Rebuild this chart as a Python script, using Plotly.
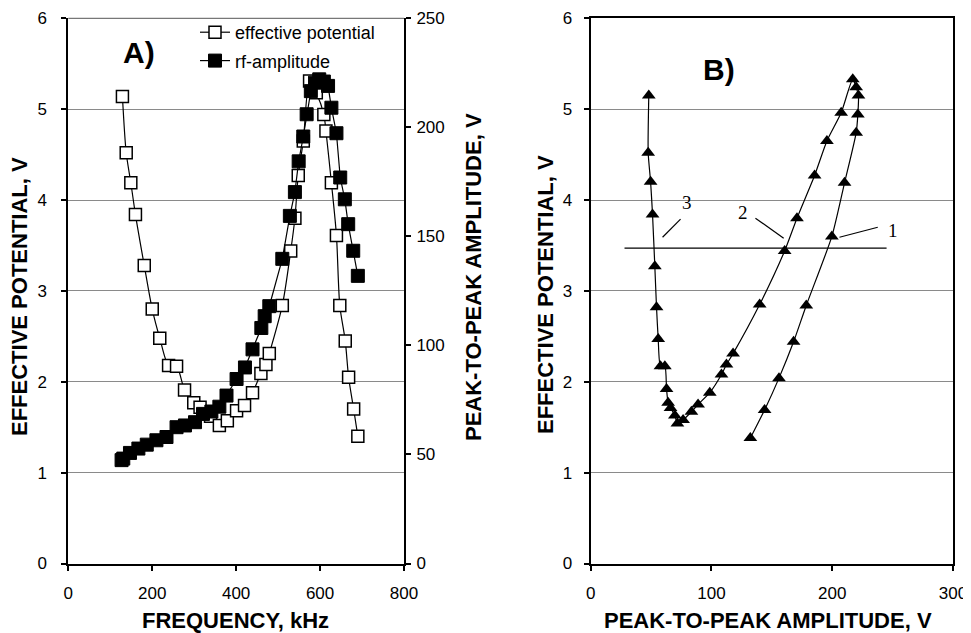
import plotly.graph_objects as go

# ---------------- Panel A data ----------------
ep_freq = [129, 138, 149, 160, 181, 200, 218, 239, 258, 277, 299, 314, 339, 360, 379, 401, 420,
           439, 459, 471, 479, 510, 530, 540, 548, 560, 575, 591, 609, 614, 627, 639, 647, 660,
           668, 680, 690]
ep_pot = [5.14, 4.52, 4.19, 3.84, 3.28, 2.80, 2.48, 2.18, 2.17, 1.91, 1.77, 1.72, 1.62, 1.52, 1.57,
          1.68, 1.74, 1.88, 2.09, 2.19, 2.31, 2.84, 3.44, 3.80, 4.27, 4.65, 5.31, 5.18, 4.94, 4.76,
          4.19, 3.61, 2.84, 2.45, 2.05, 1.70, 1.40]

rf_freq = [127, 131, 147, 167, 187, 210, 234, 258, 278, 302, 321, 341, 360, 377, 401, 421, 439,
           460, 468, 479, 510, 528, 540, 549, 560, 568, 578, 588, 598, 609, 619, 627, 639, 648,
           659, 667, 679, 690]
rf_amp = [47.4, 48.1, 50.7, 52.7, 54.5, 56.5, 58.0, 62.5, 63.3, 64.8, 68.6, 69.7, 71.9, 77.0, 84.6,
          89.9, 98.2, 108.0, 113.4, 118.0, 139.7, 159.4, 170.3, 184.4, 195.8, 206.0, 216.6, 220.5,
          222.0, 221.0, 219.0, 209.0, 197.3, 177.0, 167.0, 155.6, 143.4, 131.9]

# ---------------- Panel B data ----------------
b_amp = [48.1, 47.6, 49.6, 51.2, 53.1, 54.5, 55.9, 57.8, 61.4, 62.8, 64.1, 66.1, 69.7, 71.8, 76.5,
         83.4, 88.9, 98.6, 108.3, 112.4, 117.9, 139.9, 160.6, 170.8, 185.4, 195.6, 207.4, 217.0,
         219.8, 221.7, 221.2, 219.8, 210.2, 199.7, 178.5, 168.0, 155.9, 144.0, 132.2]
b_pot = [5.15, 4.52, 4.20, 3.84, 3.27, 2.82, 2.47, 2.17, 2.17, 1.92, 1.77, 1.71, 1.63, 1.54, 1.58,
         1.67, 1.75, 1.88, 2.08, 2.19, 2.31, 2.85, 3.44, 3.80, 4.27, 4.65, 4.96, 5.33, 5.24, 5.15,
         4.94, 4.74, 4.19, 3.60, 2.84, 2.44, 2.04, 1.69, 1.38]

curve_labels = ["3", "2", "1"]

W, H = 971, 633
OFF = 8  # default page body margin in the browser
def px(x):
    return (x - OFF) / W
def py(y):
    return 1 - (y - OFF) / H

FONT = "Liberation Sans, Arial, sans-serif"
SERIF = "Liberation Serif, Times New Roman, serif"
GRID = "#8a8a8a"

fig = go.Figure()

fig.add_trace(go.Scatter(
    x=ep_freq, y=ep_pot, mode="lines+markers", name="effective potential",
    legendgroup="ep",
    line=dict(color="black", width=1.2, shape="spline", smoothing=0.8),
    marker=dict(symbol="square", size=12, color="white", line=dict(color="black", width=1.5)),
    xaxis="x", yaxis="y"))

fig.add_trace(go.Scatter(
    x=rf_freq, y=rf_amp, mode="lines+markers", name="rf-amplitude",
    legendgroup="rf",
    line=dict(color="black", width=1.2),
    marker=dict(symbol="square", size=13, color="black", line=dict(color="black", width=1)),
    xaxis="x", yaxis="y2"))

fig.add_trace(go.Scatter(
    x=b_amp, y=b_pot, mode="lines+markers", showlegend=False,
    line=dict(color="black", width=1.2, shape="spline", smoothing=0.6),
    marker=dict(symbol="triangle-up", size=12, color="black"),
    xaxis="x2", yaxis="y3"))

ydom = [py(563.5), py(18.3)]
axis_common = dict(showline=True, linecolor="black", linewidth=2, ticks="outside",
                   ticklen=5, tickwidth=2, tickcolor="black", zeroline=False,
                   automargin=False, ticklabeloverflow="allow",
                   tickfont=dict(family=FONT, size=17, color="black"))

fig.update_layout(
    template="none",
    width=W, height=H, margin=dict(l=0, r=0, t=0, b=0, autoexpand=False),
    paper_bgcolor="white", plot_bgcolor="white",
    showlegend=True,
    legend=dict(x=px(195), y=py(14), xanchor="left", yanchor="top",
                bgcolor="rgba(0,0,0,0)", borderwidth=0,
                font=dict(family=FONT, size=18, color="black"),
                itemwidth=30, tracegroupgap=2),
    xaxis=dict(domain=[px(68.3), px(404)], range=[0, 800], dtick=200, anchor="y",
               showgrid=False, ticklabelstandoff=8, **axis_common),
    yaxis=dict(domain=ydom, range=[0, 6], dtick=1, anchor="x",
               showgrid=True, gridcolor=GRID, gridwidth=1, ticklabelstandoff=11, **axis_common),
    yaxis2=dict(range=[0, 250], dtick=50, overlaying="y", side="right", anchor="x",
                showgrid=False, ticklabelstandoff=2, **axis_common),
    xaxis2=dict(domain=[px(590.7), px(953)], range=[0, 300], dtick=100, anchor="y3",
                showgrid=False, mirror=True, ticklabelstandoff=8, **axis_common),
    yaxis3=dict(domain=ydom, range=[0, 6], dtick=1, anchor="x2", mirror=True,
                showgrid=True, gridcolor=GRID, gridwidth=1, ticklabelstandoff=8, **axis_common),
)

shapes = [
    # top border of panel A
    dict(type="line", xref="x domain", yref="y domain", x0=0, x1=1, y0=1, y1=1,
         line=dict(color="#555555", width=1)),
    # horizontal reference line in panel B
    dict(type="line", xref="x2", yref="y3", x0=28, x1=245, y0=3.47, y1=3.47,
         line=dict(color="black", width=1.2)),
    # leader lines
    dict(type="line", xref="x2", yref="y3", x0=74.4, y0=3.79, x1=59.5, y1=3.59,
         line=dict(color="black", width=1.2)),
    dict(type="line", xref="x2", yref="y3", x0=136.4, y0=3.80, x1=159.8, y1=3.58,
         line=dict(color="black", width=1.2)),
    dict(type="line", xref="x2", yref="y3", x0=237.7, y0=3.70, x1=206.0, y1=3.59,
         line=dict(color="black", width=1.2)),
]
fig.update_layout(shapes=shapes)

title_font = dict(family=FONT, size=22, color="black")
C = dict(xref="paper", yref="paper", showarrow=False, xanchor="center", yanchor="middle")
ann = [
    dict(text="<b>EFFECTIVE POTENTIAL, V</b>", x=px(19), y=py(297), textangle=-90,
         font=title_font, **C),
    dict(text="<b>PEAK-TO-PEAK AMPLITUDE, V</b>", x=px(473), y=py(277), textangle=-90,
         font=title_font, **C),
    dict(text="<b>EFFECTIVE POTENTIAL, V</b>", x=px(545), y=py(295), textangle=-90,
         font=title_font, **C),
    dict(text="<b>FREQUENCY, kHz</b>", x=px(235.5), y=py(620), font=title_font, **C),
    dict(text="<b>PEAK-TO-PEAK AMPLITUDE, V</b>", x=px(768), y=py(620), font=title_font, **C),
    dict(text="<b>A)</b>", x=px(139), y=py(52), font=dict(family=FONT, size=30, color="black"), **C),
    dict(text="<b>B)</b>", x=px(719), y=py(70), font=dict(family=FONT, size=30, color="black"), **C),
]
label_pos = [(79.8, 3.97), (126.1, 3.86), (250.1, 3.67)]
for lab, (lx, ly) in zip(curve_labels, label_pos):
    ann.append(dict(text=lab, x=lx, y=ly, xref="x2", yref="y3", showarrow=False,
                    xanchor="center", yanchor="middle",
                    font=dict(family=SERIF, size=19, color="black")))
fig.update_layout(annotations=ann)

fig.write_html("out.html")
